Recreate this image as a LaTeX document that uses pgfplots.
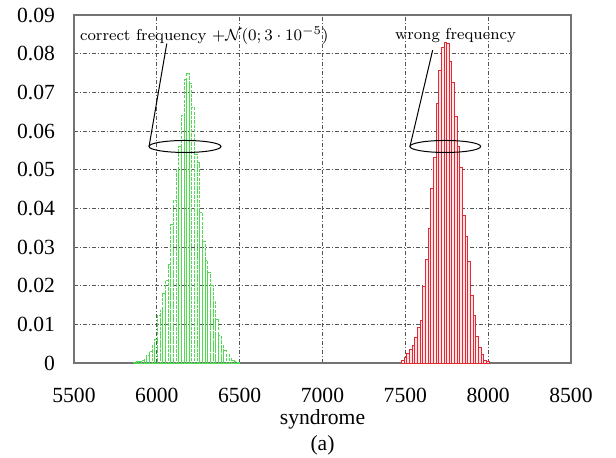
\documentclass[border=0pt]{standalone}
\usepackage{fontspec}
\newfontfamily\timesfont{Liberation Serif}
\usepackage{pgfplots}
\pgfplotsset{compat=1.18}

\definecolor{hgreen}{RGB}{80,220,80}
\definecolor{hred}{RGB}{228,40,52}
\definecolor{gridgray}{RGB}{85,85,85}

% histogram bins (left edge, frequency); last row closes the last bin
\pgfplotstableread{
x y
5860 0.0002
5876 0.0003
5892 0.0005
5908 0.0007
5924 0.0010
5940 0.0020
5956 0.0030
5972 0.0045
5988 0.0060
6004 0.0124
6020 0.0137
6036 0.0180
6052 0.0213
6068 0.0256
6084 0.0357
6100 0.0420
6116 0.0500
6132 0.0560
6148 0.0640
6164 0.0732
6180 0.0749
6196 0.0724
6212 0.0660
6228 0.0540
6244 0.0518
6260 0.0390
6276 0.0315
6292 0.0264
6308 0.0235
6324 0.0200
6340 0.0160
6356 0.0112
6372 0.0070
6388 0.0044
6404 0.0032
6420 0.0023
6436 0.0012
6452 0.0006
6468 0.0003
6484 0.0002
6500 0
}\correcttab

\pgfplotstableread{
x y
7477 0.0008
7493 0.0015
7509 0.0025
7525 0.0035
7541 0.0045
7557 0.0067
7573 0.0093
7589 0.0110
7605 0.0199
7621 0.0268
7637 0.0349
7653 0.0451
7669 0.0532
7685 0.0672
7701 0.0758
7717 0.0817
7733 0.0828
7749 0.0826
7765 0.0779
7781 0.0725
7797 0.0639
7813 0.0560
7829 0.0506
7845 0.0383
7861 0.0327
7877 0.0263
7893 0.0175
7909 0.0124
7925 0.0070
7941 0.0040
7957 0.0023
7973 0.0008
7989 0.0003
8005 0
}\wrongtab

\begin{document}
\begin{tikzpicture}
\useasboundingbox (-37pt,-47pt) rectangle (271pt,181.5pt);
\begin{axis}[
    at={(0,0)}, anchor=south west,
    scale only axis,
    width=248.5pt, height=174pt,
    xmin=5500, xmax=8500,
    ymin=0, ymax=0.09,
    xtick={5500,6000,6500,7000,7500,8000,8500},
    xticklabels={5500,6000,6500,7000,7500,8000,8500},
    ytick={0,0.01,0.02,0.03,0.04,0.05,0.06,0.07,0.08,0.09},
    yticklabels={0,0.01,0.02,0.03,0.04,0.05,0.06,0.07,0.08,0.09},
    scaled x ticks=false, scaled y ticks=false,
    grid=major,
    major grid style={gridgray, line width=0.5pt, dash pattern=on 2.2pt off 0.9pt on 0.5pt off 0.9pt},
    axis line style={black!55, line width=0.8pt},
    major tick length=0pt,
    tick label style={font=\timesfont\fontsize{10.8}{12}\selectfont},
    xticklabel style={yshift=-9pt},
    yticklabel style={xshift=-6pt},
    clip=false,
]

% correct frequency + noise: dashed light green boxes
\addplot[ybar interval, draw=hgreen, line width=0.5pt,
    dash pattern=on 1.6pt off 0.6pt, fill=none]
    table[x=x, y=y] {\correcttab};

% wrong frequency: red boxes
\addplot[ybar interval, draw=hred, line width=0.4pt, fill=hred!12]
    table[x=x, y=y] {\wrongtab};

% annotations
\node[font=\fontsize{7.9}{9.5}\selectfont, anchor=east, inner sep=0pt] at (axis cs:7039,0.0846)
    {correct frequency $+\mathcal{N}(0;3\cdot 10^{-5})$};
\node[font=\fontsize{7.9}{9.5}\selectfont, inner sep=0pt] at (axis cs:7803,0.0846) {wrong frequency};

\draw[line width=0.5pt] (axis cs:6170,0.056) ellipse [x radius=18pt, y radius=3pt];
\draw[line width=0.5pt] (axis cs:5953,0.056) -- (axis cs:6060,0.0826);
\draw[line width=0.5pt] (axis cs:7741,0.056) ellipse [x radius=17.7pt, y radius=3pt];
\draw[line width=0.5pt] (axis cs:7528,0.056) -- (axis cs:7665,0.0809);

\node[font=\timesfont\fontsize{10.8}{12}\selectfont] at (rel axis cs:0.5,0) [yshift=-28pt] {syndrome};
\node[font=\timesfont\fontsize{10.8}{12}\selectfont] at (rel axis cs:0.5,0) [yshift=-41pt] {(a)};
\end{axis}
\end{tikzpicture}
\end{document}
